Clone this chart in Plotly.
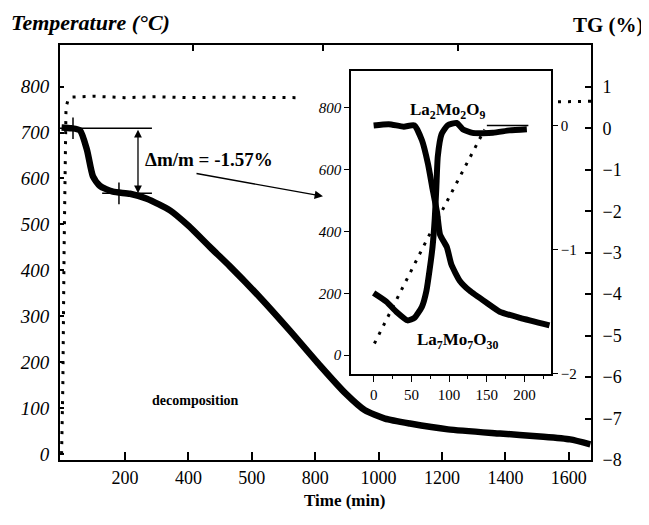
import plotly.graph_objects as go

# ---------------- data ----------------
# main plot: TG curve (right axis, %) vs time (min)
main_time = [0, 30, 58, 80, 99, 121, 162, 216, 269, 342, 400, 470, 531, 626, 720,
             815, 894, 957, 1020, 1099, 1219, 1383, 1509, 1604, 1668]
main_tg = [0.02, 0.0, -0.05, -0.52, -1.16, -1.39, -1.53, -1.58, -1.70, -1.98, -2.35,
           -2.88, -3.33, -4.08, -4.88, -5.72, -6.38, -6.80, -7.00, -7.12, -7.26,
           -7.36, -7.43, -7.50, -7.62]

# main plot: temperature programme (left axis, °C); gap hidden by the inset
temp_time = [0, 4, 8, 11, 14, 20, 30, 100, 200, 300, 400, 500, 600, 742, None, 1566, 1670]
temp_val = [0, 150, 450, 700, 755, 770, 777, 779, 776, 778, 776, 777, 776, 776, None, 767, 768]

# mass-loss step
step_top = 0.0
delta_m = -1.57

# inset: two thick curves (right inset axis) and temperature ramp (left inset axis)
inset_time_a = [0, 20, 40, 54, 64, 72, 78, 84, 88, 97, 103, 114, 127, 150, 167, 194, 233]
inset_a = [0.0, 0.01, -0.01, 0.0, -0.12, -0.31, -0.51, -0.70, -0.88, -0.98, -1.12,
           -1.25, -1.33, -1.43, -1.50, -1.55, -1.61]
inset_time_b = [0, 17, 30, 45, 54, 64, 70, 74, 78, 81, 83, 85, 90, 98, 110, 118, 131, 158, 180, 203]
inset_b = [-1.35, -1.42, -1.50, -1.57, -1.55, -1.46, -1.33, -1.17, -0.98, -0.75, -0.51,
           -0.25, -0.07, 0.0, 0.02, -0.03, -0.06, -0.06, -0.04, -0.03]
inset_ramp_time = [1, 70, 147]
inset_ramp = [38, 371, 730]
inset_hold_time = [150, 205]
inset_hold = [743, 743]

main_xticks = [200, 400, 600, 800, 1000, 1200, 1400, 1600]
main_xticktext = ["200", "400", "500", "800", "1000", "1200", "1400", "1600"]
main_yticks = [0, 100, 200, 300, 400, 500, 600, 700, 800]
main_y2ticks = [-8, -7, -6, -5, -4, -3, -2, -1, 0, 1]
top_ticks = [415, 825, 1250]
inset_xticks = [0, 50, 100, 150, 200]
inset_xminor = [25, 75, 125, 175, 225]
inset_yticks = [0, 200, 400, 600, 800]
inset_y2ticks = [-2, -1, 0]

# ---------------- figure ----------------
# the page body has an 8px margin, so the figure is 8px smaller and positions are offset
OFF = 8
W, H = 649 - OFF, 525 - OFF
SERIF = "Liberation Serif"


def px(x):
    return (x - OFF) / W


def py(y):
    return 1 - (y - OFF) / H


fig = go.Figure()

fig.add_trace(go.Scatter(x=temp_time, y=temp_val, mode="lines", xaxis="x", yaxis="y",
                         line=dict(color="black", width=3, dash="3px,7px"),
                         connectgaps=False, showlegend=False))
fig.add_trace(go.Scatter(x=main_time, y=main_tg, mode="lines", xaxis="x", yaxis="y2",
                         line=dict(color="black", width=6.5, shape="spline", smoothing=0.6),
                         showlegend=False))
fig.add_trace(go.Scatter(x=[], y=[], xaxis="x3", yaxis="y", showlegend=False))

fig.add_trace(go.Scatter(x=inset_ramp_time, y=inset_ramp, mode="lines", xaxis="x2", yaxis="y3",
                         line=dict(color="black", width=3, dash="3px,7px"), showlegend=False))
fig.add_trace(go.Scatter(x=inset_hold_time, y=inset_hold, mode="lines", xaxis="x2", yaxis="y3",
                         line=dict(color="black", width=1.5), showlegend=False))
fig.add_trace(go.Scatter(x=inset_time_a, y=inset_a, mode="lines", xaxis="x2", yaxis="y4",
                         line=dict(color="black", width=6, shape="spline", smoothing=0.5),
                         showlegend=False))
fig.add_trace(go.Scatter(x=inset_time_b, y=inset_b, mode="lines", xaxis="x2", yaxis="y4",
                         line=dict(color="black", width=6, shape="spline", smoothing=0.5),
                         showlegend=False))

axis_common = dict(showgrid=False, zeroline=False, showline=True, linecolor="black",
                   tickcolor="black", color="black")

fig.update_layout(
    width=W, height=H,
    margin=dict(l=0, r=0, t=0, b=0),
    paper_bgcolor="white", plot_bgcolor="white",
    font=dict(family=SERIF, color="black"),
    xaxis=dict(**axis_common, domain=[px(60), px(591)], range=[-5, 1670], anchor="y",
               tickvals=main_xticks, ticktext=main_xticktext, ticks="inside", ticklen=8,
               tickwidth=1.5, linewidth=2, tickfont=dict(size=18, family=SERIF)),
    xaxis3=dict(**axis_common, overlaying="x", side="top", anchor="y", range=[-5, 1670],
                tickvals=top_ticks, ticks="inside", ticklen=6, tickwidth=1.5, linewidth=2,
                showticklabels=False),
    yaxis=dict(**axis_common, domain=[py(469), py(46)], range=[-13, 890], anchor="x",
               tickvals=main_yticks, ticks="inside", ticklen=4, tickwidth=1.5, linewidth=2,
               ticklabelstandoff=5,
               tickfont=dict(size=19, family=SERIF, style="italic")),
    yaxis2=dict(**axis_common, overlaying="y", side="right", anchor="x", range=[-8, 2],
                tickvals=main_y2ticks, ticks="inside", ticklen=6, tickwidth=1.5, linewidth=2,
                ticklabelstandoff=6, tickfont=dict(size=18, family=SERIF)),
    xaxis2=dict(**axis_common, domain=[px(351), px(551)], range=[-30, 235], anchor="y3",
                tickvals=inset_xticks, ticks="outside", ticklen=6, tickwidth=1.2,
                linewidth=1.5, mirror=True,
                minor=dict(tickvals=inset_xminor, ticks="outside", ticklen=3, tickcolor="black"),
                tickfont=dict(size=15, family=SERIF)),
    yaxis3=dict(**axis_common, domain=[py(381), py(72)], range=[-60, 920], anchor="x2",
                tickvals=inset_yticks, ticks="outside", ticklen=5, tickwidth=1.2,
                linewidth=1.5, mirror=True,
                tickfont=dict(size=15, family=SERIF, style="italic")),
    yaxis4=dict(**axis_common, overlaying="y3", side="right", anchor="x2", range=[-2, 0.44],
                tickvals=inset_y2ticks, ticks="outside", ticklen=5, tickwidth=1.2,
                linewidth=1.5, tickfont=dict(size=15, family=SERIF)),
)

# Δm/m construction lines
fig.add_shape(type="line", xref="x", yref="y2", x0=-15, x1=285, y0=step_top, y1=step_top,
              line=dict(color="black", width=1.5))
fig.add_shape(type="line", xref="x", yref="y2", x0=128, x1=285, y0=delta_m, y1=delta_m,
              line=dict(color="black", width=1.5))
fig.add_shape(type="line", xref="x", yref="y2", x0=36, x1=36, y0=step_top + 0.26,
              y1=step_top - 0.26, line=dict(color="black", width=1.5))
fig.add_shape(type="line", xref="x", yref="y2", x0=181, x1=181, y0=delta_m + 0.26,
              y1=delta_m - 0.26, line=dict(color="black", width=1.5))
fig.add_annotation(x=241, y=delta_m, xref="x", yref="y2", ax=241, ay=step_top,
                   axref="x", ayref="y2", showarrow=True, arrowside="end+start",
                   arrowhead=2, arrowsize=1.2, arrowwidth=1.3, arrowcolor="black", text="")
fig.add_annotation(x=px(323), y=py(200), xref="paper", yref="paper", ax=-128, ay=-23,
                   showarrow=True, arrowhead=2, arrowsize=1.2, arrowwidth=1.4,
                   arrowcolor="black", text="")


def label(text, x, y, size, xanchor="left", bold=True, italic=False):
    fig.add_annotation(x=px(x), y=py(y), xref="paper", yref="paper", text=text,
                       showarrow=False, xanchor=xanchor, yanchor="middle",
                       font=dict(family=SERIF, size=size, color="black",
                                 weight="bold" if bold else "normal",
                                 style="italic" if italic else "normal"))


label("Temperature (°C)", 9, 23, 22, italic=True)
label("TG (%)", 646, 25, 21, xanchor="right")
label("Time (min)", 344, 510, 17, xanchor="center")
label("Δm/m = -1.57%", 143, 162, 19)
label("decomposition", 150, 408, 14)
label("La<sub>2</sub>Mo<sub>2</sub>O<sub>9</sub>", 448, 113, 17, xanchor="center")
label("La<sub>7</sub>Mo<sub>7</sub>O<sub>30</sub>", 458, 348, 17, xanchor="center")

fig.write_html("out.html")
